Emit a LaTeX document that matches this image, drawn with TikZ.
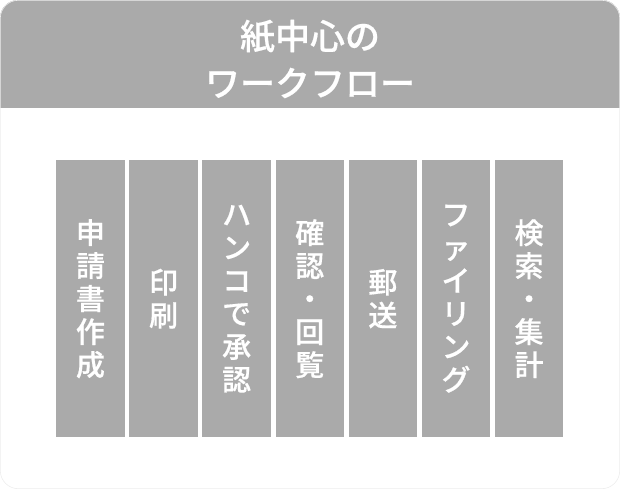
\documentclass[tikz,border=0pt]{standalone}
\usepackage{fontspec}
\newfontfamily\jp{Noto Sans CJK JP Medium}[FakeBold=0.5]
\definecolor{hdr}{HTML}{AAAAAA}
\definecolor{edge}{HTML}{EEEEEE}
\begin{document}
\begin{tikzpicture}[x=1pt,y=-1pt,
  barbox/.style={fill=hdr, minimum width=68.5pt, minimum height=277pt, inner sep=0pt,
    text=white, align=center, anchor=north west,
    font=\jp\fontsize{29}{33}\selectfont},
  titletext/.style={text=white, align=center, inner sep=0pt,
    font=\jp\fontsize{35}{47}\selectfont}]
\useasboundingbox (0,0) rectangle (620,489);
\begin{scope}
  \clip[rounded corners=18pt] (0,0) rectangle (620,489);
  \fill[white] (0,0) rectangle (620,489);
  \fill[hdr] (0,0) rectangle (620,108);
\end{scope}
\draw[edge, line width=0.6pt, rounded corners=18pt] (0.3,0.3) rectangle (619.7,488.7);
\node[titletext] (title) at (310,59) {紙中心の\\ワークフロー};
\node[barbox] (b1) at (56.0,160) {申\\請\\書\\作\\成};
\node[barbox] (b2) at (129.1,160) {印\\刷};
\node[barbox] (b3) at (202.2,160) {ハ\\ン\\コ\\で\\承\\認};
\node[barbox] (b4) at (275.3,160) {確\\認\\・\\回\\覧};
\node[barbox] (b5) at (348.4,160) {郵\\送};
\node[barbox] (b6) at (421.5,160) {フ\\ァ\\イ\\リ\\ン\\グ};
\node[barbox] (b7) at (494.6,160) {検\\索\\・\\集\\計};
\end{tikzpicture}
\end{document}
